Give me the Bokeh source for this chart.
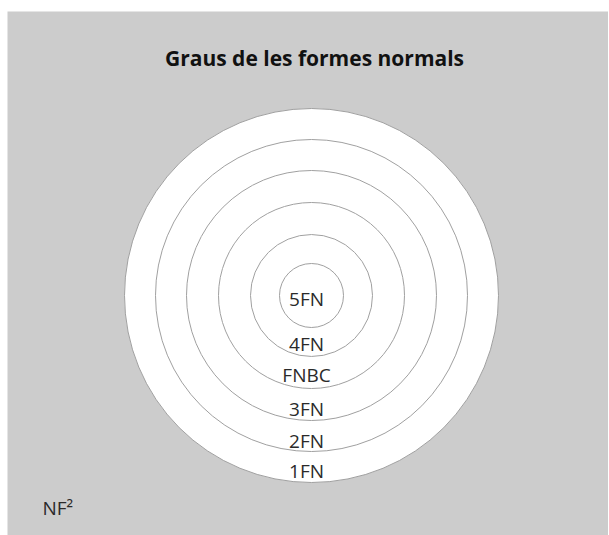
from bokeh.plotting import figure
from bokeh.models import Range1d
from bokeh.core.properties import value
from bokeh.embed import file_html
from bokeh.resources import INLINE

# Data
levels = ["1FN", "2FN", "3FN", "FNBC", "4FN", "5FN"]
radii = [187, 156, 125, 93, 61, 32]
label_y = [459, 429, 397, 363, 332, 287]
title_text = "Graus de les formes normals"
corner_text = "NF²"

FW, FH = 601, 524
cx, cy = 304, 284

p = figure(width=FW + 7, height=FH + 11, output_backend="svg", toolbar_location=None,
           x_range=Range1d(0, FW), y_range=Range1d(FH, 0),
           min_border_left=7, min_border_right=0, min_border_top=11, min_border_bottom=0)
p.axis.visible = False
p.grid.visible = False
p.outline_line_color = None
p.background_fill_color = "#cccccc"
p.border_fill_color = "white"

p.circle(x=[cx] * len(radii), y=[cy] * len(radii), radius=radii,
         fill_color="white", line_color="#a0a0a0", line_width=1)

p.text(x=[cx - 5] * len(levels), y=label_y, text=levels,
       text_font=value("Open Sans"), text_font_size="19px", text_color="#2a2a2a",
       text_align="center", text_baseline="middle")

p.text(x=[307], y=[46], text=[title_text], text_font=value("Open Sans"),
       text_font_style="bold", text_font_size="21px", text_color="#111111",
       text_align="center", text_baseline="middle")

p.text(x=[35], y=[496], text=[corner_text], text_font=value("Open Sans"),
       text_font_size="19px", text_color="#2a2a2a",
       text_align="left", text_baseline="alphabetic")

open("out.html", "w").write(file_html(p, INLINE))
